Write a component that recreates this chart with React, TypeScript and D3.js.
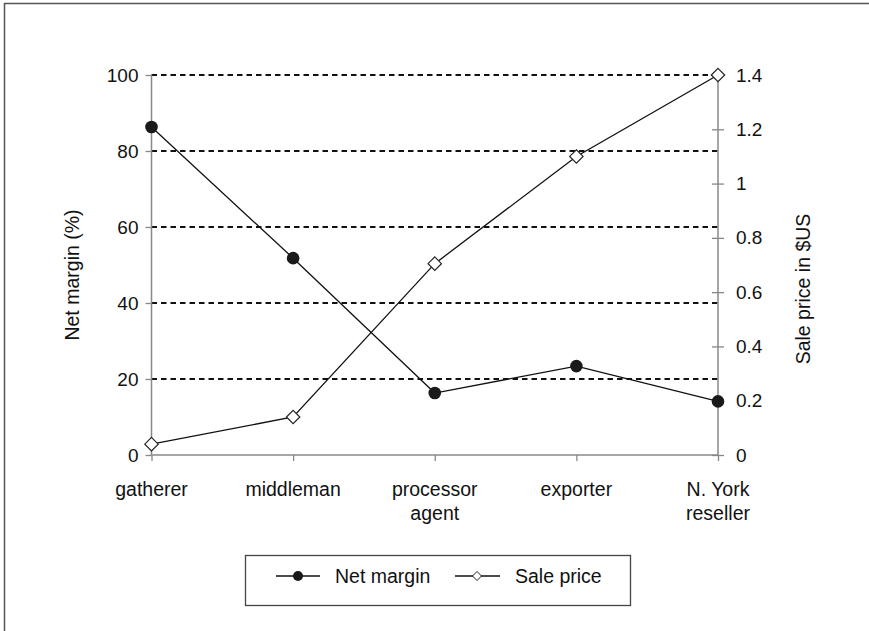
import React, { useEffect, useRef } from "react";
import * as d3 from "d3";

const categories = ["gatherer", "middleman", "processor agent", "exporter", "N. York reseller"];
const categoryLines = [["gatherer"], ["middleman"], ["processor", "agent"], ["exporter"], ["N. York", "reseller"]];
const netMargin = [86.3, 51.8, 16.3, 23.4, 14.1];
const salePrice = [0.04, 0.14, 0.705, 1.1, 1.4];
const leftTicks = [0, 20, 40, 60, 80, 100];
const rightTicks = [0, 0.2, 0.4, 0.6, 0.8, 1, 1.2, 1.4];

const W = 869;
const H = 631;
const FONT = "'Liberation Sans', Arial, sans-serif";

const App = () => {
  const svgRef = useRef<SVGSVGElement>(null);

  useEffect(() => {
    document.body.style.margin = "0";
    const svg = d3.select(svgRef.current);
    svg.selectAll("*").remove();

    const margin = { top: 75, right: 151, bottom: 176, left: 151.5 };
    const innerW = W - margin.left - margin.right;
    const innerH = H - margin.top - margin.bottom;

    // outer frame (cut off at right/bottom like the source)
    svg
      .append("rect")
      .attr("x", 4.5)
      .attr("y", 3.5)
      .attr("width", 1000)
      .attr("height", 1000)
      .attr("fill", "white")
      .attr("stroke", "#555")
      .attr("stroke-width", 1.5);

    const g = svg.append("g").attr("transform", `translate(${margin.left},${margin.top})`);

    const x = d3.scalePoint<string>().domain(categories).range([0, innerW]).padding(0);
    const yL = d3.scaleLinear().domain([0, 100]).range([innerH, 0]);
    const yR = d3.scaleLinear().domain([0, 1.4]).range([innerH, 0]);

    // dashed gridlines
    g.selectAll("line.grid")
      .data(leftTicks.filter((d) => d > 0))
      .enter()
      .append("line")
      .attr("class", "grid")
      .attr("x1", 0)
      .attr("x2", innerW)
      .attr("y1", (d) => yL(d))
      .attr("y2", (d) => yL(d))
      .attr("stroke", "#111")
      .attr("stroke-width", 1.8)
      .attr("stroke-dasharray", "5.5,4");

    const axisColor = "#888";

    // left axis
    const leftAxis = g
      .append("g")
      .call(d3.axisLeft(yL).tickValues(leftTicks).tickSize(6).tickPadding(7).tickFormat(d3.format("d")));
    // right axis
    const rightAxis = g
      .append("g")
      .attr("transform", `translate(${innerW},0)`)
      .call(
        d3
          .axisRight(yR)
          .tickValues(rightTicks)
          .tickSize(6)
          .tickPadding(12)
          .tickFormat((d) => `${+d}`)
      );
    rightAxis.selectAll(".tick line").attr("x1", -6);
    // bottom axis
    const bottomAxis = g
      .append("g")
      .attr("transform", `translate(0,${innerH})`)
      .call(d3.axisBottom(x).tickSize(6).tickFormat(() => ""));

    [leftAxis, rightAxis, bottomAxis].forEach((a) => {
      a.select(".domain").attr("stroke", axisColor).attr("stroke-width", 1.5);
      a.selectAll(".tick line").attr("stroke", axisColor).attr("stroke-width", 1.3);
      a.selectAll("text").style("font-size", "19px").style("font-family", FONT).attr("fill", "#111");
    });
    bottomAxis.select(".domain").attr("d", `M0,0H${innerW}`);
    leftAxis.select(".domain").attr("d", `M0,0V${innerH}`);
    rightAxis.select(".domain").attr("d", `M0,0V${innerH}`);

    // category labels
    const catText = g
      .selectAll("text.cat")
      .data(categories)
      .enter()
      .append("text")
      .attr("class", "cat")
      .attr("x", (d) => x(d) as number)
      .attr("y", innerH + 41)
      .attr("text-anchor", "middle")
      .style("font-size", "19.5px")
      .style("font-family", FONT)
      .attr("fill", "#111");
    catText
      .selectAll("tspan")
      .data((d, i) => categoryLines[i])
      .enter()
      .append("tspan")
      .attr("x", function () {
        return (this.parentNode as SVGTextElement).getAttribute("x");
      })
      .attr("dy", (d, i) => (i === 0 ? 0 : 24))
      .text((d) => d);

    // axis titles
    svg
      .append("text")
      .attr("transform", `translate(79,275) rotate(-90)`)
      .attr("text-anchor", "middle")
      .style("font-size", "19.5px")
      .style("font-family", FONT)
      .attr("fill", "#111")
      .text("Net margin (%)");
    svg
      .append("text")
      .attr("transform", `translate(810,289) rotate(-90)`)
      .attr("text-anchor", "middle")
      .style("font-size", "19.5px")
      .style("font-family", FONT)
      .attr("fill", "#111")
      .text("Sale price in $US");

    // series lines
    const lineL = d3
      .line<number>()
      .x((d, i) => x(categories[i]) as number)
      .y((d) => yL(d));
    const lineR = d3
      .line<number>()
      .x((d, i) => x(categories[i]) as number)
      .y((d) => yR(d));

    g.append("path")
      .datum(netMargin)
      .attr("fill", "none")
      .attr("stroke", "#111")
      .attr("stroke-width", 1.3)
      .attr("d", lineL);
    g.append("path")
      .datum(salePrice)
      .attr("fill", "none")
      .attr("stroke", "#111")
      .attr("stroke-width", 1.3)
      .attr("d", lineR);

    const diamond = (s: number) => `M0,${-s}L${s},0L0,${s}L${-s},0Z`;

    g.selectAll("path.dia")
      .data(salePrice)
      .enter()
      .append("path")
      .attr("class", "dia")
      .attr("transform", (d, i) => `translate(${x(categories[i])},${yR(d)})`)
      .attr("d", diamond(6.7))
      .attr("fill", "white")
      .attr("stroke", "#222")
      .attr("stroke-width", 1.2);

    g.selectAll("circle.dot")
      .data(netMargin)
      .enter()
      .append("circle")
      .attr("class", "dot")
      .attr("cx", (d, i) => x(categories[i]) as number)
      .attr("cy", (d) => yL(d))
      .attr("r", 6.3)
      .attr("fill", "#1a1a1a");

    // legend
    const lg = svg.append("g");
    lg.append("rect")
      .attr("x", 245.5)
      .attr("y", 555.5)
      .attr("width", 385)
      .attr("height", 50)
      .attr("fill", "white")
      .attr("stroke", "#444")
      .attr("stroke-width", 1.3);
    const ly = 576;
    lg.append("line").attr("x1", 276).attr("x2", 320).attr("y1", ly).attr("y2", ly).attr("stroke", "#111").attr("stroke-width", 1.3);
    lg.append("circle").attr("cx", 298).attr("cy", ly).attr("r", 5).attr("fill", "#1a1a1a");
    lg.append("text")
      .attr("x", 335)
      .attr("y", ly + 7)
      .style("font-size", "19.5px")
      .style("font-family", FONT)
      .attr("fill", "#111")
      .text("Net margin");
    lg.append("line").attr("x1", 455).attr("x2", 500).attr("y1", ly).attr("y2", ly).attr("stroke", "#111").attr("stroke-width", 1.3);
    lg.append("path")
      .attr("transform", `translate(477,${ly})`)
      .attr("d", diamond(4.5))
      .attr("fill", "white")
      .attr("stroke", "#222")
      .attr("stroke-width", 1);
    lg.append("text")
      .attr("x", 515)
      .attr("y", ly + 7)
      .style("font-size", "19.5px")
      .style("font-family", FONT)
      .attr("fill", "#111")
      .text("Sale price");
  }, []);

  return <svg ref={svgRef} width={W} height={H} style={{ display: "block" }}></svg>;
};

export default App;
